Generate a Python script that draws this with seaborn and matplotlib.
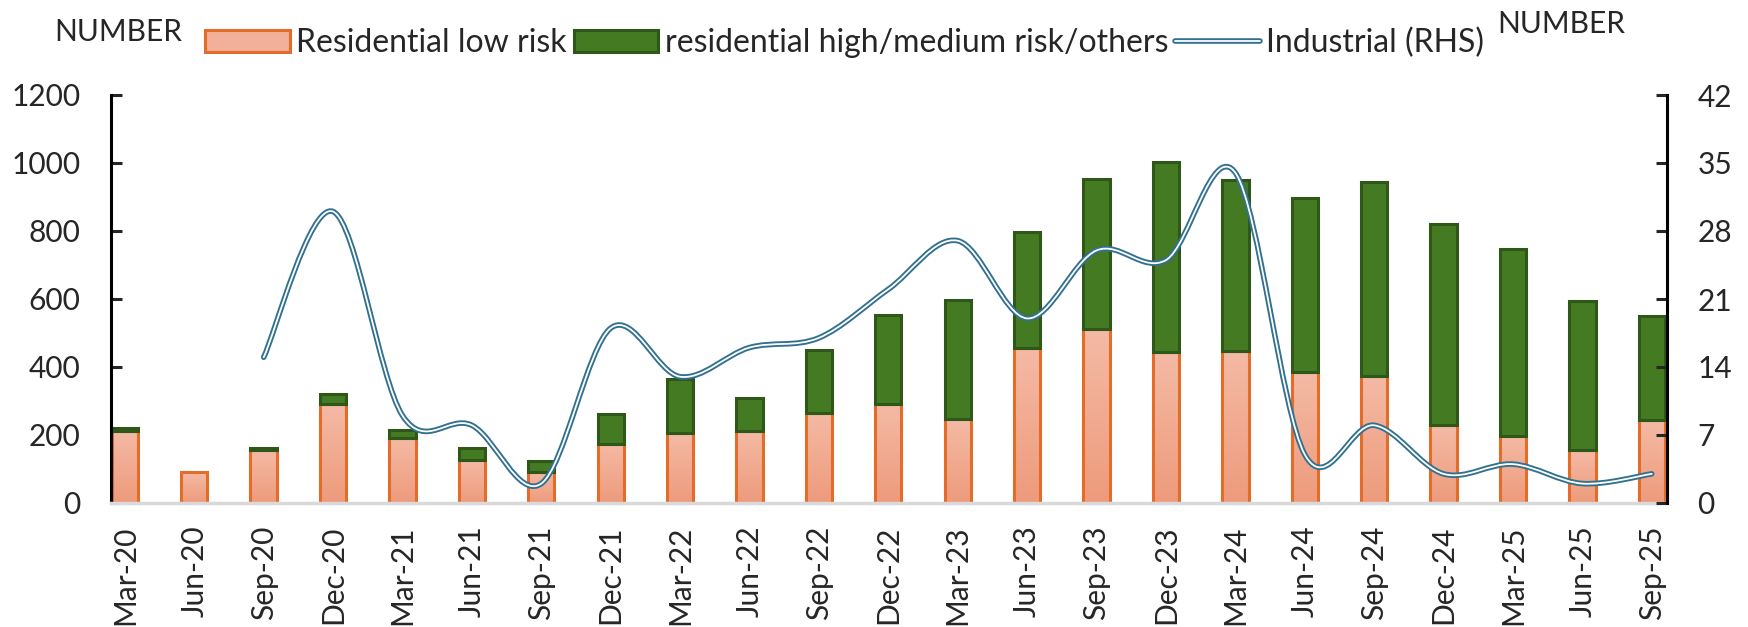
import numpy as np
import pandas as pd
import matplotlib
matplotlib.use("Agg")
import matplotlib.pyplot as plt
import matplotlib.patheffects as pe
from matplotlib.path import Path
from matplotlib.patches import PathPatch, Patch
from matplotlib.lines import Line2D
from matplotlib.colors import LinearSegmentedColormap
import seaborn as sns

# Data
quarters = ["Mar-20", "Jun-20", "Sep-20", "Dec-20", "Mar-21", "Jun-21", "Sep-21", "Dec-21",
            "Mar-22", "Jun-22", "Sep-22", "Dec-22", "Mar-23", "Jun-23", "Sep-23", "Dec-23",
            "Mar-24", "Jun-24", "Sep-24", "Dec-24", "Mar-25", "Jun-25", "Sep-25"]
low_risk = [212, 90, 155, 290, 190, 127, 92, 175, 205, 213, 266, 290, 246, 457, 511, 445,
            447, 385, 375, 228, 198, 155, 243]
high_risk = [10, 0, 7, 30, 24, 35, 32, 88, 159, 97, 184, 263, 351, 341, 442, 558,
             503, 511, 570, 594, 548, 440, 307]
industrial = [np.nan, np.nan, 15, 30, 9, 8, 2, 18, 13, 16, 17, 22, 27, 19, 26, 25,
              34, 5, 8, 3, 4, 2, 3]

ORANGE_EDGE = "#E46C29"
GREEN_FACE = "#437A22"
GREEN_EDGE = "#2E5719"
LINE_BLUE = "#31708F"

sns.set_style("white")
plt.rcParams["font.family"] = ["Lato", "DejaVu Sans"]

fig = plt.figure(figsize=(17.48, 6.27), dpi=100)
ax = fig.add_axes([111 / 1748, 1 - 503 / 627, (1667 - 111) / 1748, (503 - 95) / 627])

df = pd.DataFrame({"quarter": quarters, "low": low_risk, "high": high_risk})

# residential low risk (bottom of the stack)
sns.barplot(data=df, x="quarter", y="low", order=quarters, width=0.38, saturation=1,
            color="#F1AB92", edgecolor=ORANGE_EDGE, linewidth=2.2, errorbar=None, ax=ax)
# residential high/medium risk stacked on top
sns.barplot(data=df, x="quarter", y="high", order=quarters, width=0.38, saturation=1,
            color=GREEN_FACE, edgecolor=GREEN_EDGE, linewidth=2.2, errorbar=None,
            bottom=df["low"].values, ax=ax)

# gradient fill for the orange bars
grad_cmap = LinearSegmentedColormap.from_list("og", ["#F4BAA5", "#EE9B7C"])
grad = np.linspace(0, 1, 64).reshape(-1, 1)
for rect in ax.containers[0]:
    x0, w, h = rect.get_x(), rect.get_width(), rect.get_height()
    im = ax.imshow(grad, cmap=grad_cmap, extent=[x0, x0 + w, 0, h], origin="upper",
                   aspect="auto", zorder=0.9)
    im.set_clip_path(rect)
    rect.set_facecolor("none")
for rect in ax.containers[1]:
    if rect.get_height() == 0:
        rect.set_visible(False)

ax.set_xlim(-0.2, 22.22)
ax.set_ylim(0, 1200)
ax.set_yticks(range(0, 1201, 200))
ax.set_xlabel("")
ax.set_ylabel("")
ax.tick_params(axis="x", length=0, pad=16, labelsize=21.5, rotation=90)
ax.tick_params(axis="y", direction="in", length=8, width=2.2, pad=22, labelsize=21.5,
               left=True)
for s in ["top", "right"]:
    ax.spines[s].set_visible(False)
ax.spines["left"].set_color("black")
ax.spines["left"].set_linewidth(2.2)
ax.spines["bottom"].set_color("#D9D9D9")
ax.spines["bottom"].set_linewidth(2.5)

# industrial line on the right axis, smoothed like Excel
ax2 = ax.twinx()
ax2.set_ylim(0, 42)
ax2.set_yticks(range(0, 43, 7))
ax2.tick_params(axis="y", direction="in", length=8, width=2.2, pad=22, labelsize=21.5,
                right=True)
for s in ["top", "left", "bottom"]:
    ax2.spines[s].set_visible(False)
ax2.spines["right"].set_color("black")
ax2.spines["right"].set_linewidth(2.2)

pts = [(float(i), v) for i, v in enumerate(industrial) if not np.isnan(v)]
pts = np.array(pts)
n = len(pts)
verts = [pts[0]]
codes = [Path.MOVETO]
for i in range(n - 1):
    p_prev = pts[max(i - 1, 0)]
    p0, p1 = pts[i], pts[i + 1]
    p_next = pts[min(i + 2, n - 1)]
    verts += [p0 + (p1 - p_prev) / 6, p1 - (p_next - p0) / 6, p1]
    codes += [Path.CURVE4] * 3
line_fx = [pe.Stroke(linewidth=4.0, foreground=LINE_BLUE), pe.Normal()]
curve = PathPatch(Path(verts, codes), fill=False, edgecolor="white", linewidth=1.3,
                  capstyle="round", transform=ax2.transData, path_effects=line_fx)
ax2.add_patch(curve)

# axis unit labels
fig.text(54 / 1748, 1 - 32 / 627, "NUMBER", fontsize=21.5, ha="left", va="center")
fig.text(1497 / 1748, 1 - 24 / 627, "NUMBER", fontsize=21.5, ha="left", va="center")

handles = [
    Patch(facecolor="#F2B09A", edgecolor=ORANGE_EDGE, linewidth=2.2),
    Patch(facecolor=GREEN_FACE, edgecolor=GREEN_EDGE, linewidth=2.2),
    Line2D([], [], color="white", linewidth=1.3, path_effects=line_fx),
]
labels = ["Residential low risk", "residential high/medium risk/others", "Industrial (RHS)"]
fig.legend(handles, labels, loc="center left", bbox_to_anchor=(205 / 1748, 1 - 43 / 627),
           ncol=3, frameon=False, fontsize=23, handlelength=2.65, handleheight=0.65,
           handletextpad=0.2, columnspacing=0.22, borderpad=0, borderaxespad=0)

fig.savefig("out.png", dpi=100)
